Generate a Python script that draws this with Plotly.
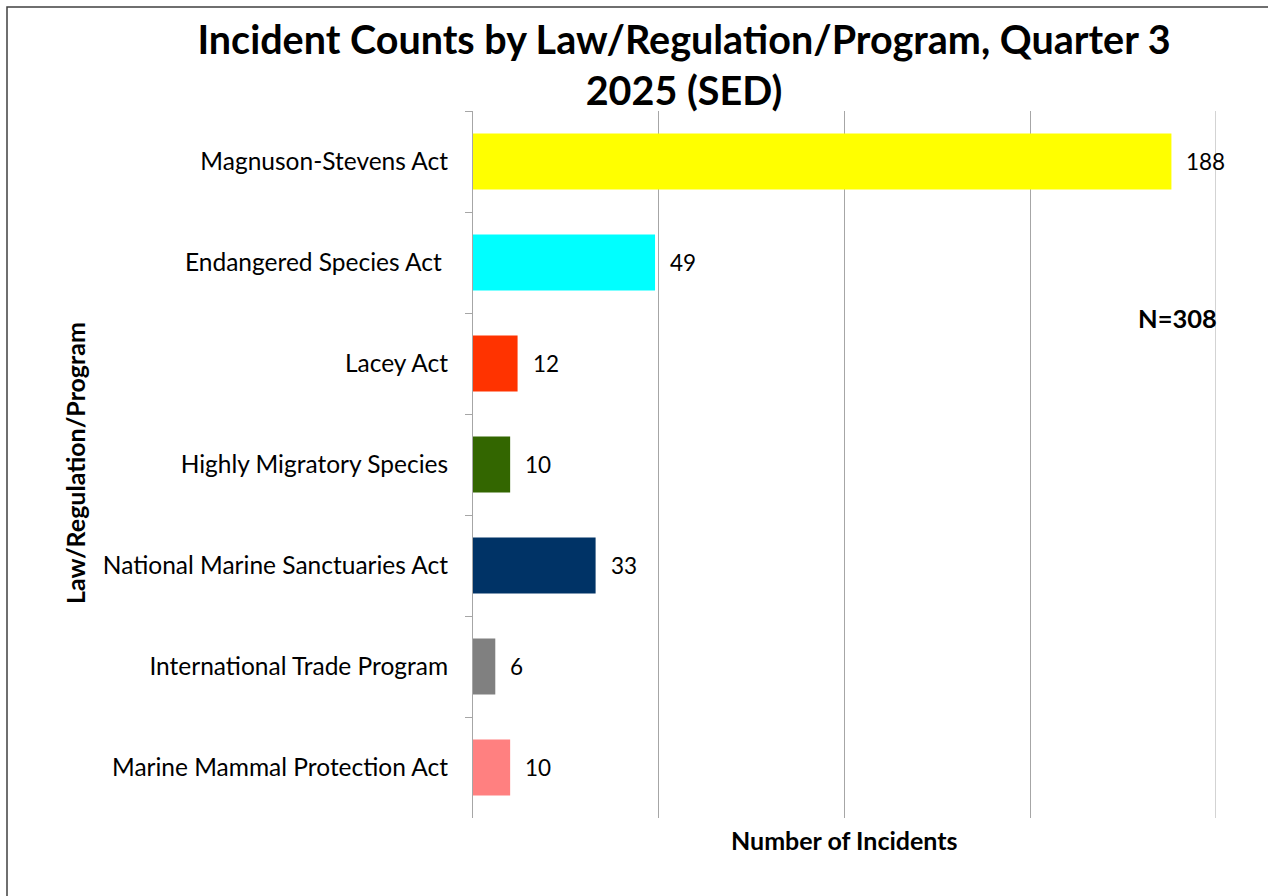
import plotly.graph_objects as go

categories = ["Magnuson-Stevens Act", "Endangered Species Act ", "Lacey Act",
              "Highly Migratory Species", "National Marine Sanctuaries Act",
              "International Trade Program", "Marine Mammal Protection Act"]
counts = [188, 49, 12, 10, 33, 6, 10]
colors = ["#FFFF00", "#00FFFF", "#FF3300", "#336600", "#003366", "#808080", "#FF8080"]
title_text = "Incident Counts by Law/Regulation/Program, Quarter 3<br>2025 (SED)"
total_label = "N=308"
x_title = "Number of Incidents"
y_title = "Law/Regulation/Program"
x_max = 200
x_step = 50

W, H = 1268, 896
ML, MR, MT, MB = 473, 52, 111, 78
pw, ph = W - ML - MR, H - MT - MB

FONT = "Lato"
GRID = "#A6A6A6"

fig = go.Figure()
fig.add_trace(go.Bar(
    y=categories, x=counts, orientation="h",
    marker=dict(color=colors, line=dict(width=0)),
    hoverinfo="x+y",
))

annotations = []
for c, v in zip(categories, counts):
    annotations.append(dict(x=v, y=c, xref="x", yref="y", text=str(v),
                            showarrow=False, xanchor="left", xshift=13,
                            font=dict(family=FONT, size=22.5, color="black")))

def px_x(p):
    return (p - ML) / pw

def px_y(p):
    return (H - MB - p) / ph

annotations.append(dict(x=px_x(1219), y=px_y(318), xref="paper", yref="paper",
                        text="<b>" + total_label + "</b>", showarrow=False,
                        xanchor="right", yanchor="middle",
                        font=dict(family=FONT, size=25.5, color="black")))
annotations.append(dict(x=px_x(844), y=px_y(840), xref="paper", yref="paper",
                        text="<b>" + x_title + "</b>", showarrow=False,
                        xanchor="center", yanchor="middle",
                        font=dict(family=FONT, size=25, color="black")))
annotations.append(dict(x=px_x(75), y=px_y(463), xref="paper", yref="paper",
                        text="<b>" + y_title + "</b>", showarrow=False,
                        textangle=-90, xanchor="center", yanchor="middle",
                        font=dict(family=FONT, size=25, color="black")))

shapes = [dict(type="rect", xref="paper", yref="paper",
               x0=px_x(7), x1=px_x(W + 20), y0=px_y(H + 20), y1=px_y(7),
               line=dict(color="#404040", width=1.5), fillcolor="rgba(0,0,0,0)",
               layer="below"),
          # gridline at the end of the value axis (plotly clips the one at the range end)
          dict(type="line", xref="x", yref="paper", x0=x_max, x1=x_max, y0=0, y1=1,
               line=dict(color=GRID, width=1), layer="below")]

fig.update_layout(
    width=W, height=H,
    margin=dict(l=ML, r=MR, t=MT, b=MB, pad=0),
    paper_bgcolor="white", plot_bgcolor="white",
    bargap=0.445,
    showlegend=False,
    title=dict(text="<b>" + title_text + "</b>", x=684 / W, xanchor="center",
               y=1 - 54 / H, yanchor="middle",
               font=dict(family=FONT, size=39.5, color="black")),
    font=dict(family=FONT, color="black"),
    annotations=annotations,
    shapes=shapes,
)
fig.update_xaxes(range=[0, x_max], dtick=x_step, tick0=0, showgrid=True, gridcolor=GRID,
                 gridwidth=1, showticklabels=False, zeroline=False, showline=False,
                 ticks="")
fig.update_yaxes(type="category", categoryorder="array", categoryarray=categories,
                 autorange="reversed", showline=True, linecolor=GRID, linewidth=1,
                 ticks="outside", tickson="boundaries", ticklen=7, tickcolor=GRID,
                 showgrid=False, ticklabelstandoff=19,
                 tickfont=dict(family=FONT, size=24.5, color="black"))

fig.write_html("out.html", config={"displayModeBar": False},
               post_script="document.body.style.margin='0';document.body.style.overflow='hidden';")
